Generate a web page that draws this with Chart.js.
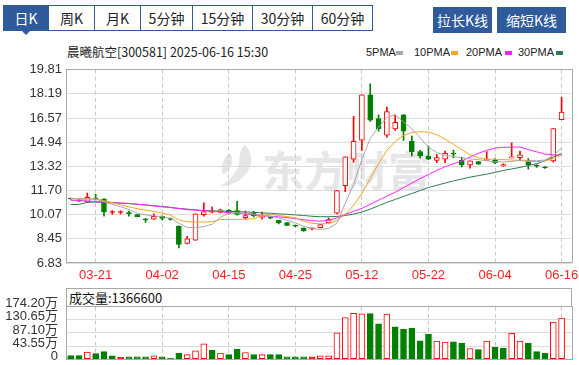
<!DOCTYPE html>
<html><head><meta charset="utf-8">
<script src="https://cdn.jsdelivr.net/npm/chart.js@4.4.1/dist/chart.umd.min.js"></script>
<style>
html,body{margin:0;padding:0;background:#fff;width:579px;height:365px;overflow:hidden;}
body{position:relative;font-family:"Liberation Sans","Noto Sans CJK SC",sans-serif;}
.tab{position:absolute;top:5px;height:26px;box-sizing:border-box;border:1px solid #2f5b9c;background:#fff;color:#222;font:14px "Noto Sans CJK SC",sans-serif;line-height:24px;text-align:center;}
.tab.sel{background:#2f5b9c;color:#fff;}
.btn{position:absolute;top:7px;height:26px;background:#2f5b9c;color:#fff;font:14px "Noto Sans CJK SC",sans-serif;line-height:26px;text-align:center;}
#tri{position:absolute;left:22px;top:31px;width:0;height:0;border-left:4px solid transparent;border-right:4px solid transparent;border-top:4px solid #2f5b9c;}
#title{position:absolute;left:67px;top:44px;font:12.5px "Noto Sans CJK SC",sans-serif;color:#222;white-space:nowrap;line-height:16px;}
.lg{position:absolute;top:45px;font:11px "Liberation Sans",sans-serif;color:#222;line-height:14px;}
.sq{position:absolute;top:51px;width:7px;height:4px;}
#wm{position:absolute;left:262px;top:138px;font:bold 42px "Noto Sans CJK SC",sans-serif;color:#e6e6e9;letter-spacing:0px;white-space:nowrap;}
#logo{position:absolute;left:215px;top:143px;}
canvas{position:absolute;left:0;}
#c1{top:58px;}
#c2{top:285px;}
#vhead{position:absolute;left:66px;top:288px;width:506px;height:19px;box-sizing:border-box;border:1px solid #aaa;font:13px "Noto Sans CJK SC",sans-serif;color:#111;line-height:17px;padding-left:2px;background:#fff;}
</style>
</head><body>
<div id="tabs"></div>
<div id="tri"></div>
<div class="btn" style="left:433px;width:59px;">拉长K线</div>
<div class="btn" style="left:497px;width:69px;">缩短K线</div>
<div id="title">晨曦航空[300581] 2025-06-16 15:30</div>
<div id="legend"></div>
<svg id="logo" width="44" height="46" viewBox="0 0 44 46">
  <path d="M30 2 C40 12 38 26 26 36 C20 41 12 43 4 44 C14 38 22 30 24 20 C25 13 24 7 30 2 Z" fill="#e6e6e9"/>
  <path d="M14 10 C20 16 18 24 8 32 C6 26 6 18 14 10 Z" fill="#e6e6e9"/>
</svg>
<div id="wm">东方财富</div>
<div id="vhead"></div>
<canvas id="c1" width="620" height="227"></canvas>
<canvas id="c2" width="620" height="90"></canvas>
<script>
// ---------- data ----------
const tabs = ['日K','周K','月K','5分钟','15分钟','30分钟','60分钟'];
const dates = ['03-18','03-19','03-20','03-21','03-24','03-25','03-26','03-27','03-28','03-31',
 '04-01','04-02','04-03','04-07','04-08','04-09','04-10','04-11','04-14','04-15',
 '04-16','04-17','04-18','04-21','04-22','04-23','04-24','04-25','04-28','04-29',
 '04-30','05-06','05-07','05-08','05-09','05-12','05-13','05-14','05-15','05-16',
 '05-19','05-20','05-21','05-22','05-23','05-26','05-27','05-28','05-29','05-30',
 '06-03','06-04','06-05','06-06','06-09','06-10','06-11','06-12','06-13','06-16'];
const xTickLabels = ['03-21','04-02','04-15','04-25','05-12','05-22','06-04','06-16'];
const priceTicks = ['6.83','8.45','10.07','11.70','13.32','14.94','16.57','18.19','19.81'];
const volTicks = ['0','43.55万','87.10万','130.65万','174.20万'];

const openP = [11.17,11.08,10.93,11.17,11.12,10.22,10.22,10.18,10.09,9.80,
 9.77,9.97,9.79,9.29,8.15,8.36,10.07,10.25,10.24,10.38,
 10.36,9.88,10.20,9.90,9.92,9.69,9.54,9.33,9.18,9.12,
 9.21,9.52,10.18,12.02,13.80,15.08,18.13,16.53,15.42,15.84,
 16.79,15.02,14.31,14.00,13.73,13.80,14.20,13.73,13.42,13.64,
 13.73,13.73,13.35,13.89,13.91,13.73,13.37,13.26,13.69,16.46];
const highP = [11.20,11.10,11.52,11.45,11.15,10.36,10.34,10.31,10.10,9.82,
 10.13,10.00,9.84,9.33,8.63,10.14,10.87,10.58,10.45,10.42,
 10.98,10.31,10.30,10.25,9.95,9.70,9.55,9.37,9.20,9.17,
 9.43,9.87,11.69,13.97,16.68,18.13,18.86,16.79,17.30,16.79,
 16.80,15.35,14.40,14.68,14.13,14.35,14.42,13.95,13.69,13.66,
 14.31,13.85,13.50,14.90,14.35,13.85,13.45,13.30,15.86,17.97];
const lowP = [11.10,10.97,10.90,11.05,9.98,10.10,10.12,9.97,9.93,9.56,
 9.76,9.72,9.70,7.85,8.12,8.34,9.98,10.20,10.20,10.12,
 10.05,9.78,9.93,9.78,9.80,9.45,9.33,9.25,8.95,9.06,
 9.19,9.50,10.12,11.62,13.60,14.40,16.35,15.68,15.28,15.73,
 15.06,14.02,13.87,13.78,13.57,13.57,13.91,13.29,13.20,13.45,
 13.72,13.50,13.32,13.88,13.69,13.13,13.25,13.18,13.60,16.46];
const closeP = [11.13,10.99,11.24,11.12,10.27,10.22,10.22,10.15,9.95,9.72,
 9.96,9.83,9.75,8.07,8.46,10.14,10.29,10.25,10.40,10.18,
 10.09,10.01,10.01,9.93,9.85,9.54,9.36,9.30,8.98,9.12,
 9.41,9.74,11.69,13.97,15.00,18.13,16.42,15.84,17.01,16.28,
 15.68,14.31,14.02,13.80,13.91,14.20,14.15,13.42,13.69,13.47,
 13.77,13.57,13.45,13.93,14.09,13.42,13.34,13.23,15.86,16.97];
const volume = [120000,120000,240000,186000,250000,109000,65000,76000,76000,76000,
 109000,76000,33000,207000,153000,275000,512000,294000,207000,153000,
 327000,218000,153000,153000,153000,153000,76000,76000,76000,76000,
 109000,109000,871000,1380000,1525000,1503000,1514000,1177000,1493000,1070000,
 991000,1035000,610000,828000,599000,566000,577000,534000,349000,316000,
 599000,392000,359000,860000,599000,534000,251000,207000,1231000,1366600];
// 1 = up, -1 = down, 0 = flat
const volDir = [-1,-1,1,-1,-1,-1,0,-1,-1,-1,
 1,-1,-1,-1,1,1,1,-1,1,-1,
 -1,1,-1,1,-1,-1,-1,-1,-1,0,
 1,1,1,1,1,1,-1,-1,1,-1,
 -1,-1,-1,-1,1,1,-1,-1,1,-1,
 1,-1,-1,1,1,-1,-1,-1,1,1];
const ma5 = [11.15,11.12,11.12,11.12,10.95,10.77,10.61,10.42,10.18,10.06,
 10.0,9.93,9.85,9.5,9.22,9.2,9.28,9.43,9.9,10.18,
 10.2,10.18,10.12,10.05,9.98,9.85,9.7,9.52,9.3,9.14,
 9.08,9.15,9.5,10.85,12.1,13.8,15.2,15.95,16.6,16.78,
 16.3,15.85,15.25,14.6,14.25,14.05,13.98,13.9,13.83,13.77,
 13.7,13.62,13.62,13.65,13.74,13.72,13.7,13.75,14.05,14.55];
const ma10 = [11.15,11.15,11.14,11.13,11.02,10.88,10.74,10.6,10.48,10.38,
 10.3,10.18,10.05,9.72,9.6,9.58,9.58,9.6,9.75,9.76,
 9.76,9.77,9.8,10.05,10.1,10.02,9.95,9.86,9.64,9.5,
 9.46,9.48,9.68,10.1,10.7,11.5,12.5,13.5,14.4,15.0,
 15.4,15.6,15.65,15.62,15.45,15.15,14.8,14.45,14.1,13.9,
 13.8,13.8,13.78,13.75,13.72,13.66,13.64,13.68,13.85,14.1];
const ma20 = [11.05,11.02,11.0,10.96,10.92,10.89,10.86,10.83,10.78,10.72,
 10.66,10.6,10.55,10.48,10.42,10.38,10.34,10.3,10.26,10.22,
 10.18,10.12,10.06,10.01,9.97,9.93,9.88,9.82,9.74,9.67,
 9.64,9.7,9.85,10.1,10.3,10.5,10.78,11.05,11.32,11.58,
 11.9,12.2,12.5,12.78,13.05,13.3,13.5,13.68,13.95,14.2,
 14.4,14.55,14.6,14.62,14.62,14.45,14.3,14.15,14.1,14.07];
const ma30 = [10.76,10.77,10.9,10.92,10.9,10.88,10.85,10.82,10.78,10.73,
 10.68,10.63,10.57,10.5,10.45,10.4,10.36,10.33,10.31,10.3,
 10.28,10.26,10.23,10.2,10.17,10.13,10.1,10.06,10.02,9.97,
 9.94,9.94,9.96,10.02,10.12,10.25,10.45,10.68,10.9,11.1,
 11.3,11.5,11.7,11.9,12.05,12.2,12.35,12.47,12.6,12.7,
 12.8,12.92,13.05,13.15,13.25,13.38,13.5,13.7,13.95,14.2];
const maNames = ['5PMA','10PMA','20PMA','30PMA'];

// ---------- page chrome ----------
const RED = '#ff0000', GREEN = '#008000';
const maColors = ['#a8a8a8','#f5a623','#ff22ff','#2e7d4f'];
const tabEdges = [3,48,94,140,192,252,312,372];
const tabBox = document.getElementById('tabs');
tabs.forEach((t,i)=>{
  const d = document.createElement('div');
  d.className = 'tab' + (i===0?' sel':'');
  d.style.left = tabEdges[i]+'px';
  d.style.width = (tabEdges[i+1]-tabEdges[i]+1)+'px';
  d.textContent = t;
  tabBox.appendChild(d);
});
const lgTextX = [366,414,466,518], lgSqX = [396,451,505,556];
const lg = document.getElementById('legend');
maNames.forEach((n,i)=>{
  const t = document.createElement('div'); t.className='lg'; t.style.left=lgTextX[i]+'px'; t.textContent=n; lg.appendChild(t);
  const s = document.createElement('div'); s.className='sq'; s.style.left=lgSqX[i]+'px'; s.style.background=maColors[i]; lg.appendChild(s);
});
document.getElementById('vhead').textContent = '成交量:' + volume[volume.length-1];

// ---------- charts ----------
const idx = dates.map((d,i)=>i);
const isUp = i => closeP[i] >= openP[i];
const candleCol = i => isUp(i) ? RED : GREEN;
const xTickVals = xTickLabels.map(l=>dates.indexOf(l));
const FONT = '"Liberation Sans","Noto Sans CJK SC",sans-serif';

const frame = {
  id:'frame',
  afterDatasetsDraw(chart){
    const {ctx, chartArea:a} = chart;
    ctx.save(); ctx.strokeStyle='#aaaaaa'; ctx.lineWidth=1;
    ctx.strokeRect(Math.floor(a.left)+0.5, Math.floor(a.top)+0.5, Math.round(a.right-a.left), Math.round(a.bottom-a.top));
    ctx.restore();
  }
};

const xScale = (showLabels, h) => ({
  type:'linear', min:-0.565, max:60.19, offset:false, bounds:'ticks',
  afterBuildTicks: s => { s.ticks = xTickVals.map(v=>({value:v})); },
  ticks:{display:showLabels, callback:v=>dates[v], color:'#ff2020', font:{family:FONT,size:13}, padding:5, maxRotation:0, autoSkip:false},
  grid:{color:'#c8c8c8', drawTicks:false, lineWidth:1, offset:false},
  border:{display:false, dash:[4,3]},
  afterFit: s => { s.height = h; }
});

new Chart(document.getElementById('c1'), {
  type:'bar',
  data:{ datasets:[
    ...[ma5,ma10,ma20,ma30].map((arr,k)=>({
      type:'line', label:maNames[k], data:arr.map((v,i)=>({x:i,y:v})),
      borderColor:maColors[k], borderWidth:1, pointRadius:0, tension:0, order:k===0?0:1+k
    })),
    { label:'body', data:idx.map(i=>({x:i,y:[openP[i],closeP[i]]})),
      backgroundColor:c=>{const i=c.dataIndex; return closeP[i]>openP[i]?'#ffffff':candleCol(i);},
      borderColor:c=>candleCol(c.dataIndex), borderWidth:1, borderSkipped:false,
      barThickness:5, minBarLength:1, grouped:false, order:10 },
    { label:'wick', data:idx.map(i=>({x:i,y:[lowP[i],highP[i]]})),
      backgroundColor:c=>candleCol(c.dataIndex), borderWidth:0,
      barThickness:1, grouped:false, order:11 }
  ]},
  options:{
    responsive:false, animation:false, events:[],
    layout:{padding:{left:0,right:48.5,top:10,bottom:0}},
    plugins:{legend:{display:false}, tooltip:{enabled:false}},
    scales:{
      x: xScale(true, 22),
      y:{ min:parseFloat(priceTicks[0]), max:parseFloat(priceTicks[priceTicks.length-1]),
        afterBuildTicks: s => { s.ticks = priceTicks.map(t=>({value:parseFloat(t)})); },
        ticks:{callback:(v,i)=>priceTicks[i], color:'#333', font:{family:FONT,size:13}, padding:4, autoSkip:false},
        grid:{color:'#dcdcdc', drawTicks:false}, border:{display:false},
        afterFit: s => { s.width = 66; } }
    }
  },
  plugins:[frame]
});

const volVal = t => t==='0' ? 0 : parseFloat(t)*10000;
new Chart(document.getElementById('c2'), {
  type:'bar',
  data:{ datasets:[
    { label:'成交量', data:idx.map(i=>({x:i,y:volume[i]})),
      backgroundColor:c=>{const d=volDir[c.dataIndex]; return d>0?'#ffffff':(d<0?GREEN:RED);},
      borderColor:c=>volDir[c.dataIndex]<0?GREEN:RED, borderWidth:1, borderSkipped:false,
      barThickness:6, grouped:false }
  ]},
  options:{
    responsive:false, animation:false, events:[],
    layout:{padding:{left:0,right:48.5,top:21.7,bottom:0}},
    plugins:{legend:{display:false}, tooltip:{enabled:false}},
    scales:{
      x: xScale(false, 15),
      y:{ min:0, max:volVal(volTicks[volTicks.length-1]),
        afterBuildTicks: s => { s.ticks = volTicks.map(t=>({value:volVal(t)})); },
        ticks:{callback:(v,i)=>volTicks[i], color:'#333', font:{family:FONT,size:13}, padding:8, labelOffset:-3, autoSkip:false},
        grid:{color:'#dcdcdc', drawTicks:false}, border:{display:false},
        afterFit: s => { s.width = 66; } }
    }
  },
  plugins:[frame]
});
</script>
</body></html>
